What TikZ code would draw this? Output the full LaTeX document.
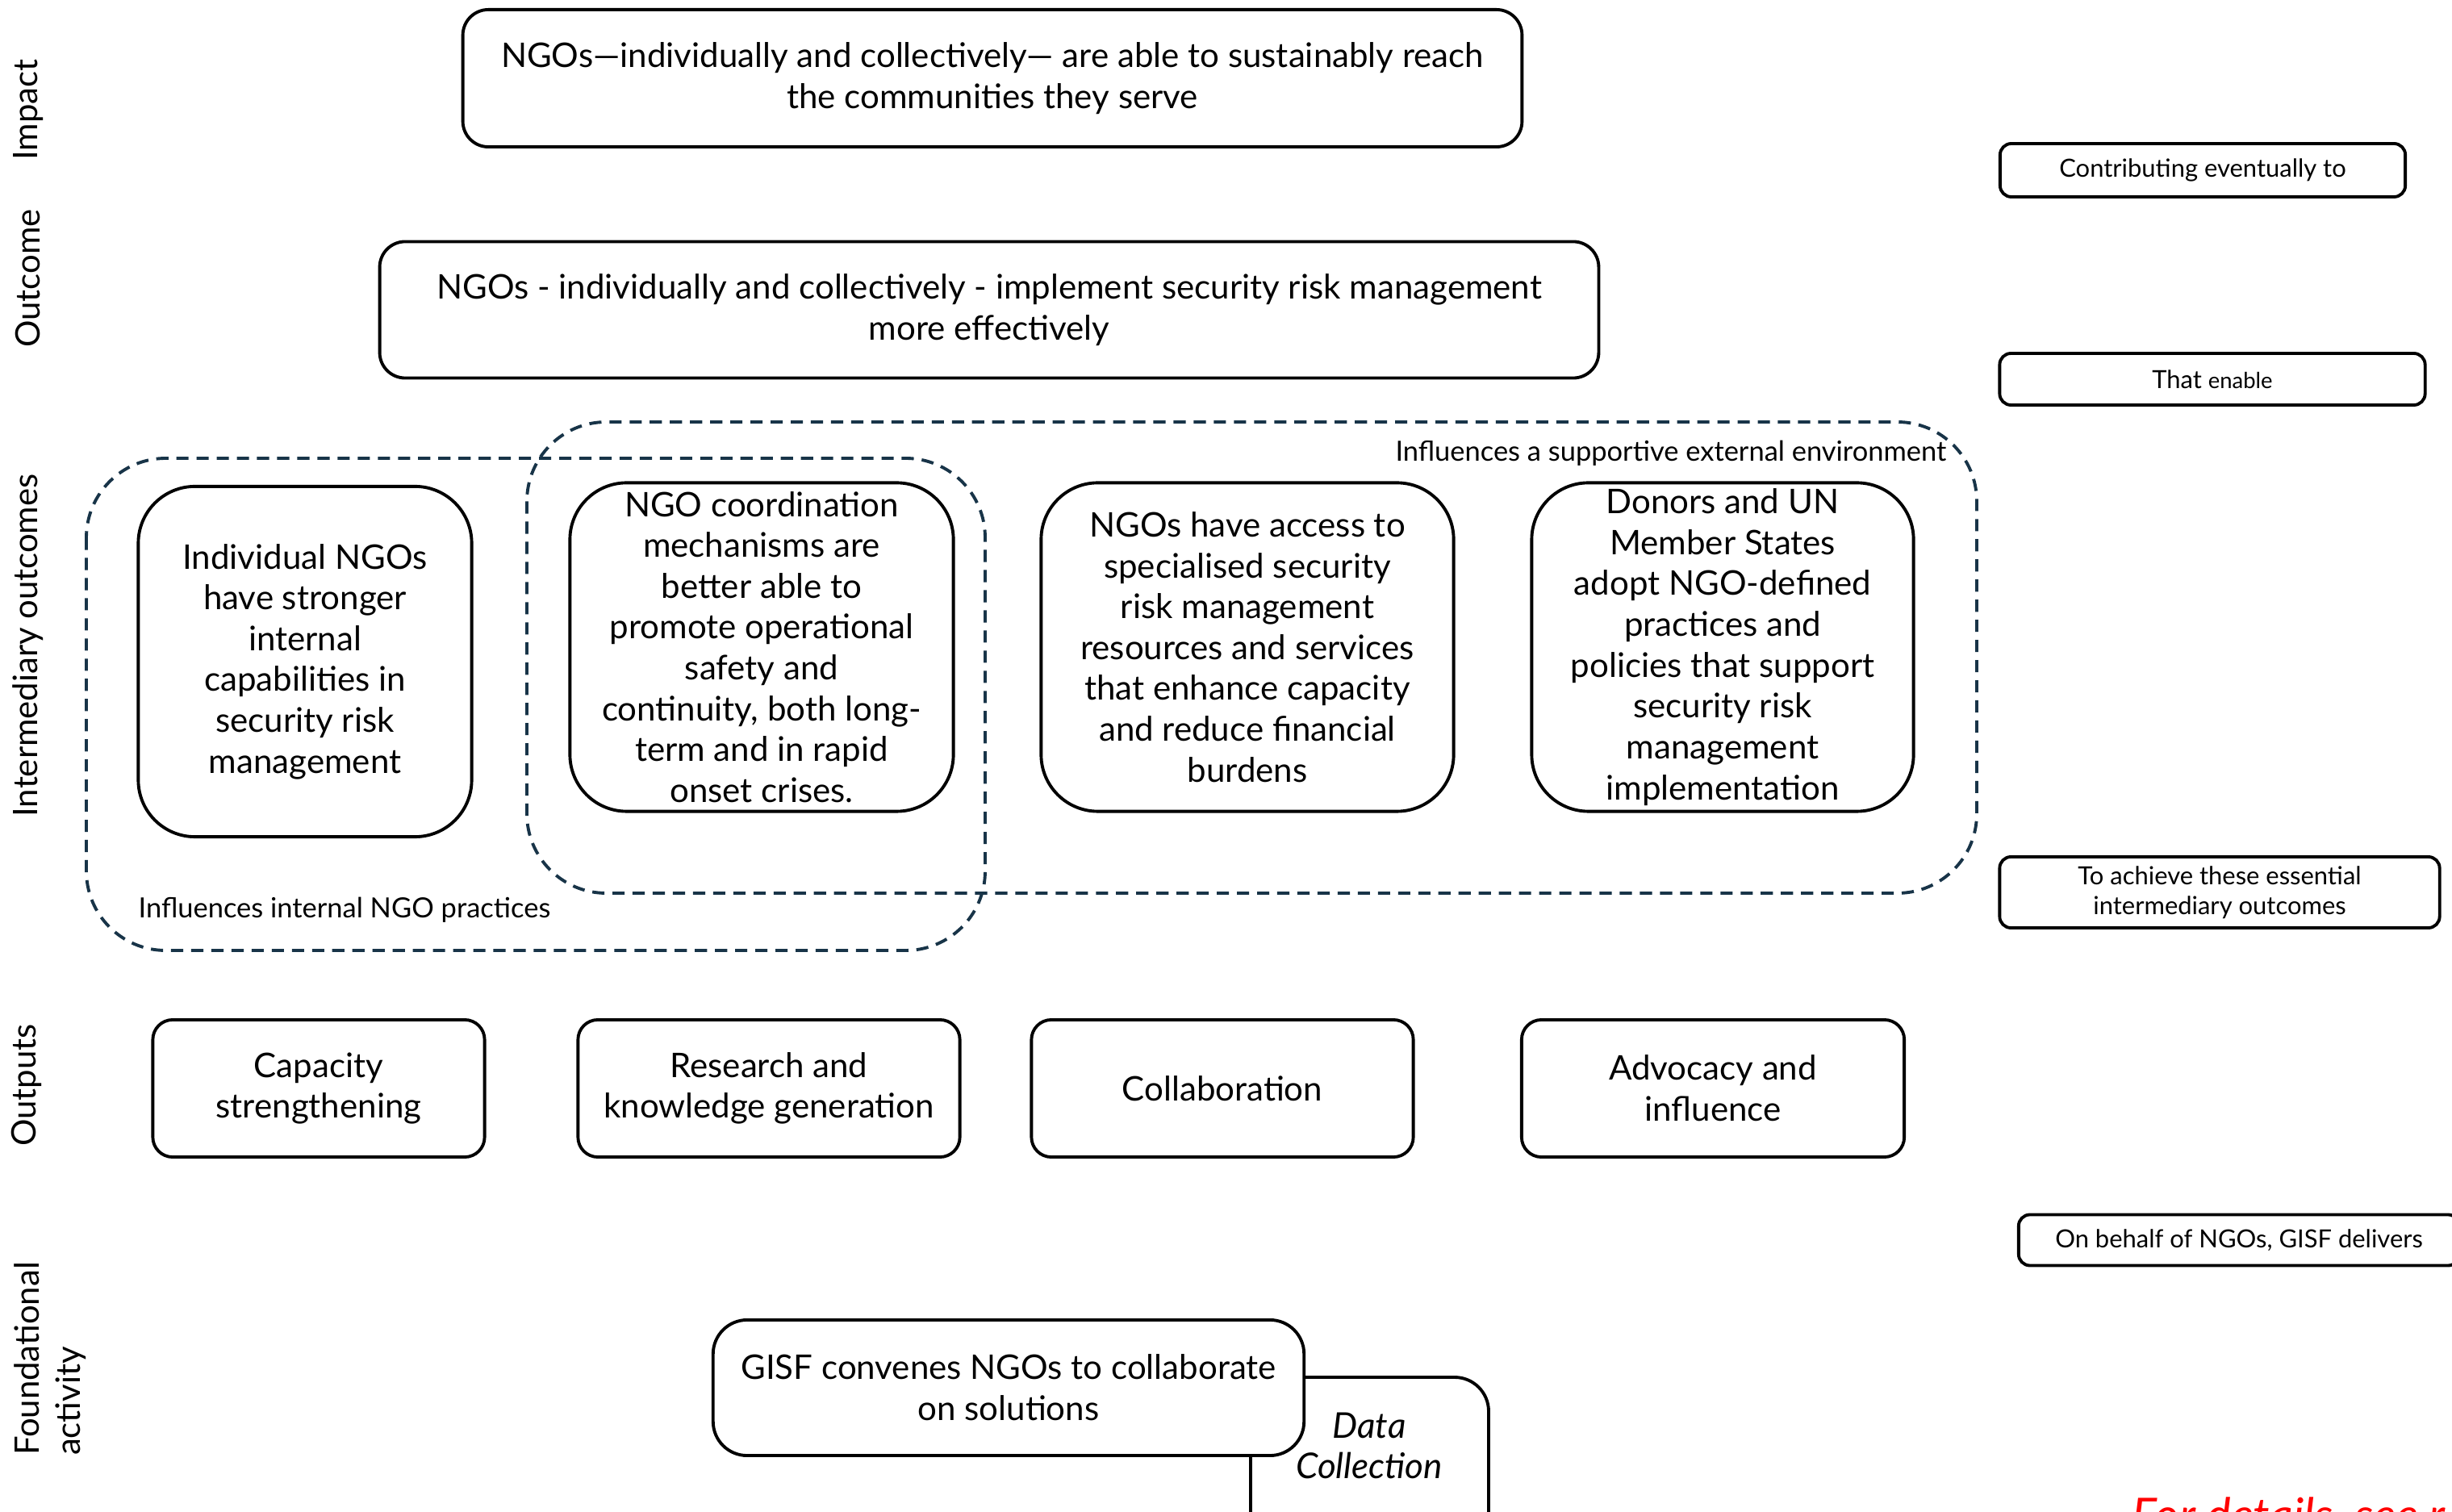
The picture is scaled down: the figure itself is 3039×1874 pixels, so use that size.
\documentclass[tikz,border=0pt]{standalone}
\usepackage{fontspec}
\setmainfont{Lato}
\definecolor{regionblue}{RGB}{24,52,72}

\begin{document}
\begin{tikzpicture}[x=0.01cm, y=-0.01cm,
		mainbox/.style={draw, line width=1.1pt, rounded corners=9pt, align=center, inner sep=0pt, fill=white, font=\fontsize{11.95}{14.4}\selectfont},
		iobox/.style={mainbox, rounded corners=20pt},
		outbox/.style={mainbox, rounded corners=7pt},
		notebox/.style={draw, line width=1.1pt, rounded corners=4pt, align=center, inner sep=0pt, font=\fontsize{8.8}{10.5}\selectfont},
		region/.style={draw=regionblue, line width=1.1pt, dash pattern=on 4.3pt off 2.8pt, rounded corners=28pt},
		regionlabel/.style={font=\fontsize{9.8}{11}\selectfont, inner sep=0pt},
		rowlabel/.style={rotate=90, align=left, inner sep=0pt, font=\fontsize{11.9}{14.4}\selectfont}]
		%%%%% START %%%%%
		
		\useasboundingbox (0,0) rectangle (3039,1874);
		
		% row labels
		\node[rowlabel] (limpact) at (35,136) {Impact};
		\node[rowlabel] (loutcome) at (35,345) {Outcome};
		\node[rowlabel] (linter) at (35,800) {Intermediary outcomes};
		\node[rowlabel] (loutputs) at (33,1345) {Outputs};
		\node[rowlabel] (lfound) at (62,1684) {Foundational\\activity};
		
		% impact and outcome
		\node[mainbox, minimum width=13.12cm, minimum height=1.70cm] (impact) at (1230,97) {NGOs---individually and collectively--- are able to sustainably reach\\the communities they serve};
		\node[mainbox, minimum width=15.10cm, minimum height=1.69cm] (outcome) at (1226,384) {NGOs - individually and collectively - implement security risk management\\more effectively};
		
		% spheres of influence
		\draw[region] (107,568) rectangle (1221,1178);
		\draw[region] (653,523) rectangle (2450,1107);
		\node[regionlabel, anchor=west] (internal) at (171,1128) {Influences internal NGO practices};
		\node[regionlabel, anchor=east] (external) at (2413,562) {Influences a supportive external environment};
		
		% intermediary outcomes
		\node[iobox, minimum width=4.13cm, minimum height=4.34cm] (io1) at (378,820) {Individual NGOs\\have stronger\\internal\\capabilities in\\security risk\\management};
		\node[iobox, minimum width=4.75cm, minimum height=4.07cm] (io2) at (944,802) {NGO coordination\\mechanisms are\\better able to\\promote operational\\safety and\\continuity, both long-\\term and in rapid\\onset crises.};
		\node[iobox, minimum width=5.11cm, minimum height=4.07cm] (io3) at (1546,802) {NGOs have access to\\specialised security\\risk management\\resources and services\\that enhance capacity\\and reduce financial\\burdens};
		\node[iobox, minimum width=4.73cm, minimum height=4.07cm] (io4) at (2135,802) {Donors and UN\\Member States\\adopt NGO-defined\\practices and\\policies that support\\security risk\\management\\implementation};
		
		% outputs
		\node[outbox, minimum width=4.11cm, minimum height=1.70cm] (capacity) at (395,1349) {Capacity\\strengthening};
		\node[outbox, minimum width=4.73cm, minimum height=1.70cm] (research) at (953,1349) {Research and\\knowledge generation};
		\node[outbox, minimum width=4.73cm, minimum height=1.70cm] (collab) at (1515,1349) {Collaboration};
		\node[outbox, minimum width=4.74cm, minimum height=1.70cm] (advocacy) at (2123,1349) {Advocacy and\\influence};
		
		% foundational activity
		\draw[line width=1.1pt, rounded corners=12pt] (1550,1960) rectangle (1845,1707);
		\node[align=center, inner sep=0pt, font=\fontsize{12.5}{14.4}\itshape] (data) at (1697,1792) {Data\\Collection};
		\node[outbox, rounded corners=12pt, minimum width=7.32cm, minimum height=1.68cm] (gisf) at (1250,1720) {GISF convenes NGOs to collaborate\\on solutions};
		
		% reading guide
		\node[notebox, minimum width=5.02cm, minimum height=0.66cm] (contrib) at (2730,211) {Contributing eventually to};
		\node[notebox, minimum width=5.27cm, minimum height=0.64cm] (enable) at (2742,470) {That {\fontsize{7.8}{9}\selectfont enable}};
		\node[notebox, minimum width=5.45cm, minimum height=0.88cm] (achieve) at (2751,1106) {To achieve these essential\\intermediary outcomes};
		\node[notebox, minimum width=5.46cm, minimum height=0.63cm] (behalf) at (2775,1537) {On behalf of NGOs, GISF delivers};
		
		\node[anchor=base west, inner sep=0pt, text=red, font=\fontsize{16.5}{18}\itshape] (details) at (2642,1898) {For details, see r};
		
		%%%%% END %%%%%
	\end{tikzpicture}
\end{document}
